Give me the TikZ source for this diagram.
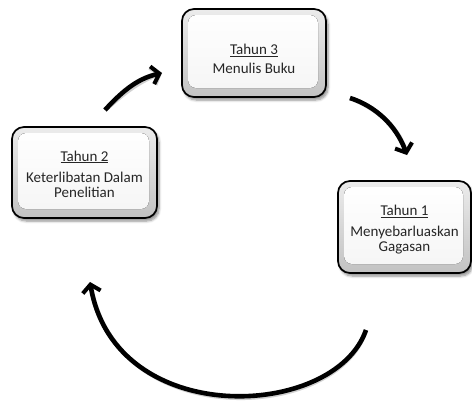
\documentclass[tikz,border=0pt]{standalone}
\usepackage{fontspec}
\setmainfont{Carlito}
\usetikzlibrary{arrows.meta,shadows.blur,calc}

\tikzset{
  stagebox/.style={
    draw=black, line width=1.7pt, rounded corners=12pt,
    top color=gray!15, bottom color=gray!48,
    blur shadow={shadow xshift=2pt, shadow yshift=-3pt, shadow blur steps=6,
                 shadow blur radius=2.5pt, shadow opacity=45},
    path picture={
      \fill[rounded corners=8pt, top color=white, bottom color=gray!8]
        ([shift={(6pt,-6pt)}]path picture bounding box.north west) rectangle
        ([shift={(-8pt,9pt)}]path picture bounding box.south east);
    }
  },
  stagetext/.style={align=center, inner sep=0pt, text=black!85,
    font=\fontsize{15}{15}\selectfont},
  cyclearrow/.style={line width=4.6pt, black,
    -{Straight Barb[length=7.5pt, width=18pt, line width=4pt]}},
  arrowshade/.style={line width=4.6pt, black!45, opacity=0.4,
    -{Straight Barb[length=7.5pt, width=18pt, line width=4pt]}}
}

\begin{document}
\begin{tikzpicture}[x=1pt, y=-1pt]
\useasboundingbox (0,0) rectangle (472,400);

% the three stages
\node[stagebox, minimum width=144pt, minimum height=88pt] (b3) at (254,53) {};
\node[stagebox, minimum width=145pt, minimum height=91pt] (b2) at (84.5,172.5) {};
\node[stagebox, minimum width=133pt, minimum height=92pt] (b1) at (404.5,227) {};

\node[stagetext] (t3) at (254,59) {\underline{Tahun 3}\\[4pt]Menulis Buku};
\node[stagetext] (t2) at (84.5,174) {\underline{Tahun 2}\\[6pt]Keterlibatan Dalam\\Penelitian};
\node[stagetext] (t1) at (404.5,230) {\underline{Tahun 1}\\[6pt]Menyebarluaskan\\Gagasan};

% free ends of the cycle arrows
\coordinate (a1s) at (105,110);
\coordinate (a1e) at (162,73);
\coordinate (a2s) at (350,98);
\coordinate (a2e) at (407,155);
\coordinate (a3s) at (366,330);
\coordinate (a3e) at (90,282);

% soft shadows under the arrows
\begin{scope}[shift={(2,2)}]
  \draw[arrowshade] (a1s) .. controls (125,88) and (140,78) .. (a1e);
  \draw[arrowshade] (a2s) .. controls (375,106) and (396,125) .. (a2e);
  \draw[arrowshade] (a3s) .. controls (335,420) and (115,430) .. (a3e);
\end{scope}

% the cycle arrows
\draw[cyclearrow] (a1s) .. controls (125,88) and (140,78) .. (a1e);
\draw[cyclearrow] (a2s) .. controls (375,106) and (396,125) .. (a2e);
\draw[cyclearrow] (a3s) .. controls (335,420) and (115,430) .. (a3e);
\end{tikzpicture}
\end{document}
